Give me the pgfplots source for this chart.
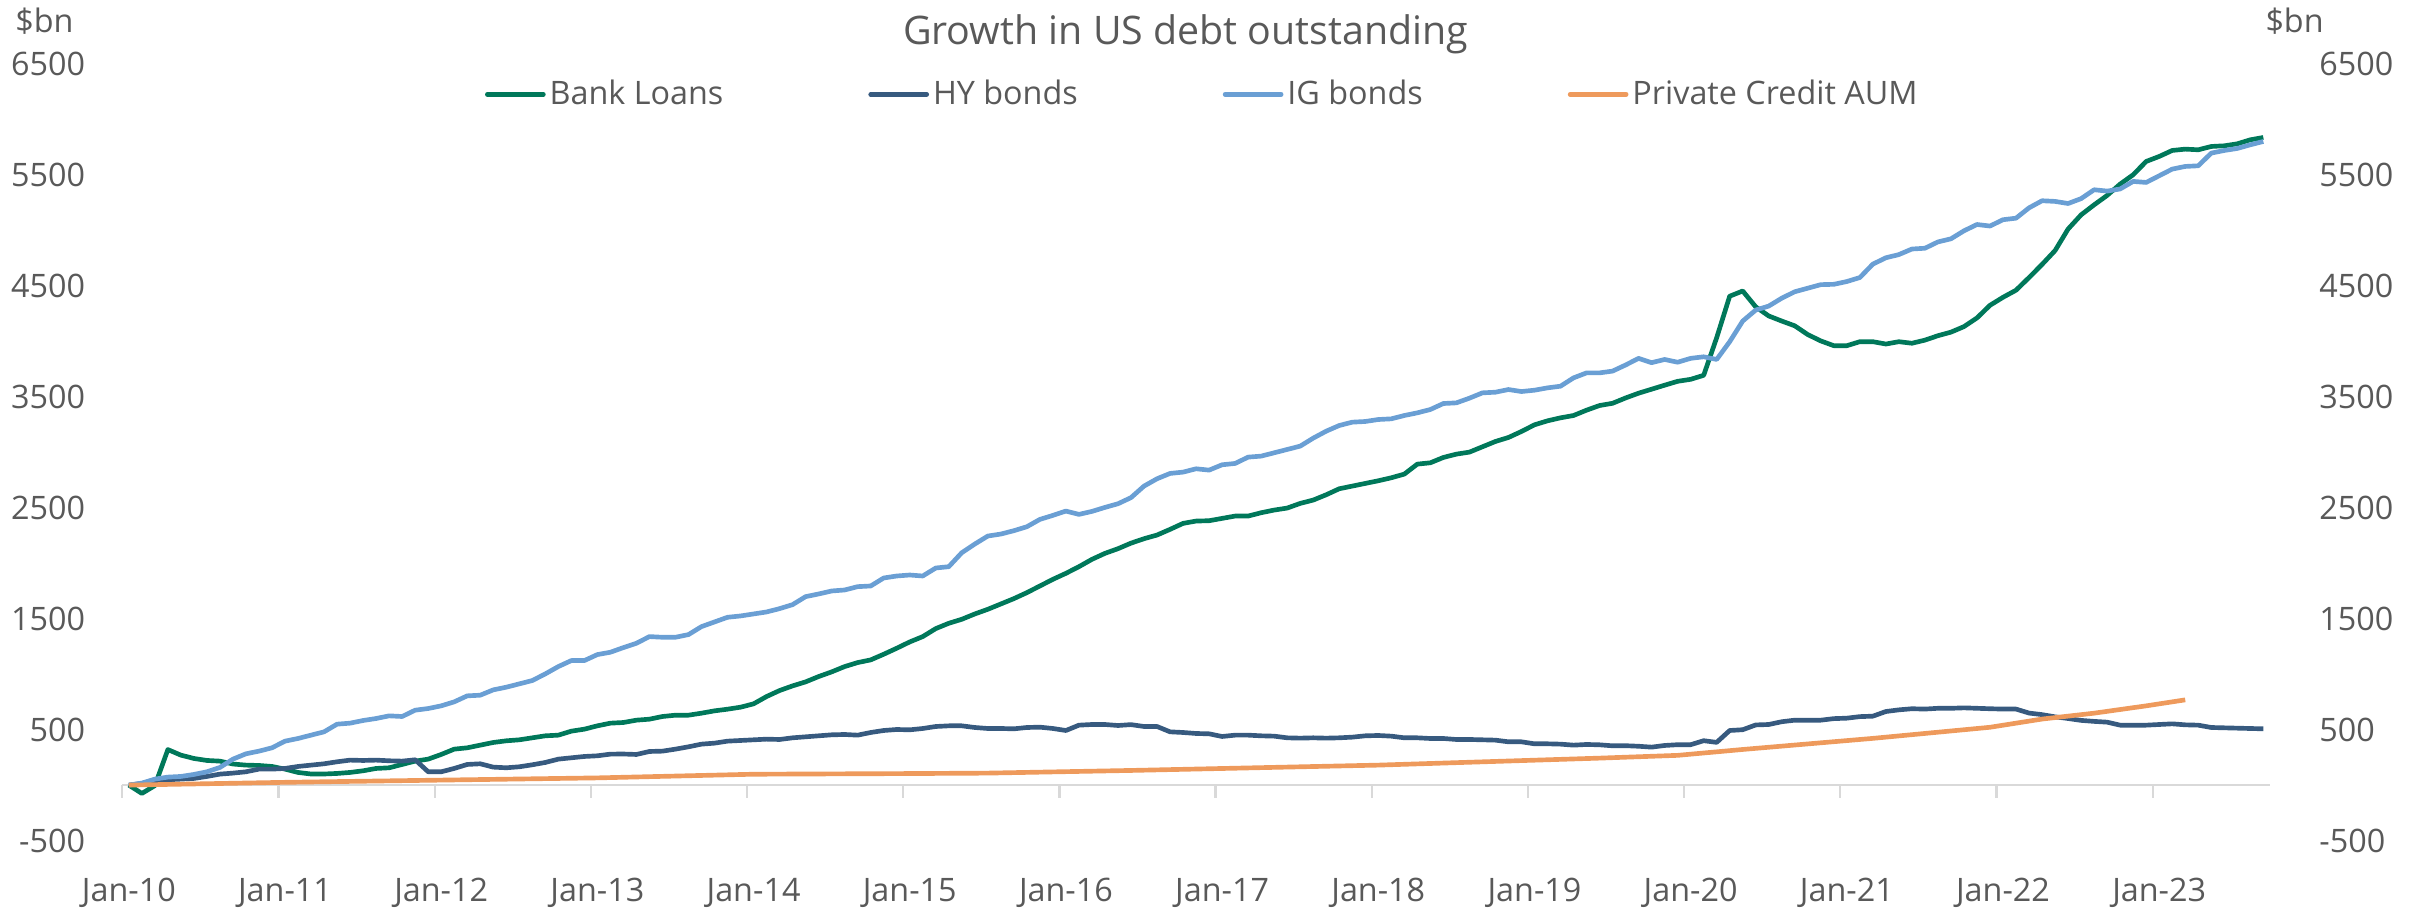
\documentclass[border=0pt]{standalone}
\usepackage{pgfplots}
\pgfplotsset{compat=1.18}
\usepackage{pgfplotstable}
\usepackage{fontspec}
\setmainfont{Open Sans}
\definecolor{bankgreen}{HTML}{00785A}
\definecolor{hyblue}{HTML}{375A7F}
\definecolor{igblue}{HTML}{6A9FD4}
\definecolor{pcorange}{HTML}{EE9A5C}
\definecolor{txtgray}{HTML}{595959}
\definecolor{axgray}{HTML}{D9D9D9}

% month index 0 = Jan-10
\pgfplotstableread{
m bl hy ig
0 0 0 0
1 -75 15 18
2 -5 39 54
3 320 48 72
4 270 54 78
5 240 60 96
6 222 78 120
7 216 99 159
8 190 108 234
9 180 120 282
10 177 144 306
11 168 144 336
12 144 150 396
13 114 168 420
14 100 180 450
15 100 192 480
16 105 210 549
17 114 225 558
18 129 222 582
19 150 225 600
20 156 219 624
21 186 216 618
22 216 228 675
23 234 120 690
24 276 120 714
25 324 150 750
26 336 186 804
27 360 192 810
28 384 162 858
29 399 156 882
30 408 165 912
31 426 183 942
32 444 204 1002
33 450 234 1068
34 486 246 1122
35 504 258 1122
36 534 264 1176
37 558 279 1197
38 564 280 1239
39 585 276 1278
40 594 303 1338
41 618 306 1332
42 630 324 1332
43 630 345 1356
44 648 369 1428
45 669 378 1470
46 684 396 1512
47 702 402 1524
48 732 408 1542
49 798 414 1560
50 852 411 1590
51 894 426 1626
52 930 435 1698
53 978 444 1722
54 1020 453 1749
55 1068 456 1758
56 1104 450 1788
57 1128 474 1794
58 1179 492 1866
59 1233 501 1884
60 1290 498 1893
61 1338 510 1884
62 1410 528 1956
63 1458 534 1968
64 1494 534 2094
65 1542 519 2172
66 1584 510 2244
67 1632 510 2262
68 1680 507 2292
69 1734 519 2328
70 1794 522 2394
71 1854 510 2430
72 1908 492 2469
73 1968 540 2439
74 2034 546 2466
75 2088 546 2502
76 2130 537 2535
77 2180 545 2590
78 2220 528 2694
79 2253 528 2760
80 2304 480 2808
81 2358 474 2820
82 2379 465 2850
83 2382 462 2838
84 2403 438 2886
85 2424 450 2898
86 2424 450 2955
87 2454 444 2964
88 2478 441 2994
89 2496 426 3024
90 2538 423 3054
91 2568 426 3126
92 2616 423 3189
93 2670 426 3240
94 2694 432 3270
95 2718 444 3276
96 2742 447 3294
97 2769 441 3300
98 2802 426 3330
99 2892 426 3354
100 2904 420 3384
101 2952 420 3438
102 2982 411 3444
103 3000 411 3486
104 3048 408 3534
105 3096 405 3540
106 3132 390 3564
107 3186 390 3546
108 3246 372 3558
109 3282 372 3579
110 3309 369 3594
111 3330 360 3669
112 3378 366 3714
113 3420 363 3714
114 3440 354 3730
115 3488 355 3785
116 3531 350 3845
117 3567 342 3806
118 3603 357 3835
119 3638 364 3810
120 3656 364 3845
121 3692 400 3859
122 4031 385 3835
123 4405 492 3995
124 4452 499 4181
125 4309 542 4280
126 4227 546 4316
127 4181 571 4387
128 4138 585 4445
129 4059 585 4477
130 4002 585 4509
131 3959 599 4512
132 3959 603 4537
133 3995 617 4573
134 3995 621 4694
135 3974 663 4751
136 3995 678 4780
137 3981 688 4830
138 4009 685 4837
139 4049 692 4894
140 4081 692 4922
141 4131 696 4994
142 4209 692 5051
143 4323 688 5037
144 4395 685 5094
145 4459 685 5108
146 4573 649 5201
147 4691 635 5265
148 4816 615 5259
149 5010 600 5240
150 5138 583 5284
151 5228 574 5364
152 5313 567 5352
153 5415 540 5371
154 5499 540 5439
155 5619 540 5430
156 5664 546 5490
157 5718 552 5550
158 5730 543 5574
159 5724 540 5580
160 5754 519 5694
161 5760 516 5718
162 5778 513 5736
163 5814 510 5769
164 5835 507 5799
}\debt

\pgfplotstableread{
m pc
0 0
12 25
24 45
36 65
48 98
60 104
66 108
77 132
96 180
113 243
119 268
124 321
134 421
143 521
147 595
151 648
155 714
158 768
}\pcaum

\newcommand{\smallfont}{\fontsize{9.7}{12}\selectfont}

\begin{document}
\begin{tikzpicture}
\pgfplotsset{
  base/.style={at={(0,0)}, anchor=south west, width=644.3pt, height=233.1pt,
    scale only axis, xmin=-0.5, xmax=164.5, ymin=-500, ymax=6500, clip=false}
}
% zero line with category ticks, right-hand labels
\begin{axis}[base,
  axis x line=middle, axis y line=right,
  x axis line style={draw=axgray, line width=0.7pt, -},
  y axis line style={draw=none, -},
  xtick={-0.5,11.5,...,155.5}, xticklabel=\empty,
  tick align=outside, major tick length=3.8pt,
  x tick style={draw=axgray, line width=0.7pt},
  y tick style={draw=none},
  ytick={-500,500,...,6500},
  yticklabels={-500,500,1500,2500,3500,4500,5500,6500},
  yticklabel style={anchor=west, inner sep=0pt, xshift=10.9pt, font=\smallfont, text=txtgray},
]
\end{axis}
% main axis with data
\begin{axis}[base,
  axis line style={draw=none},
  major tick length=0pt, tick style={draw=none},
  xtick={0,12,...,156},
  xticklabels={Jan-10,Jan-11,Jan-12,Jan-13,Jan-14,Jan-15,Jan-16,Jan-17,Jan-18,Jan-19,Jan-20,Jan-21,Jan-22,Jan-23},
  xticklabel style={anchor=base, inner sep=0pt, yshift=-18.3pt, font=\smallfont, text=txtgray},
  ytick={-500,500,...,6500},
  yticklabels={-500,500,1500,2500,3500,4500,5500,6500},
  yticklabel style={anchor=east, inner sep=0pt, xshift=-11pt, font=\smallfont, text=txtgray},
  legend style={at={(0.1689,0.9605)}, anchor=west, draw=none, fill=none,
    inner sep=0pt, outer sep=0pt, font=\smallfont, text=txtgray,
    nodes={inner sep=0pt},
    /tikz/every even column/.append style={column sep=43.5pt},
    /tikz/every odd column/.append style={column sep=1.2pt}},
  legend columns=4,
  legend image code/.code={\draw[#1, line width=1.4pt, line cap=round] (0pt,0pt) -- (16.8pt,0pt);},
  every axis plot/.append style={line width=1.4pt, line join=round, mark=none},
]
\addplot[color=bankgreen] table[x=m, y=bl] {\debt};
\addlegendentry{Bank Loans}
\addplot[color=hyblue] table[x=m, y=hy] {\debt};
\addlegendentry{HY bonds}
\addplot[color=igblue] table[x=m, y=ig] {\debt};
\addlegendentry{IG bonds}
\addplot[color=pcorange] table[x=m, y=pc] {\pcaum};
\addlegendentry{Private Credit AUM}
\end{axis}
\node[anchor=base, font=\fontsize{11.8}{14}\selectfont, text=txtgray] at (319.0pt,238.7pt) {Growth in US debt outstanding};
\node[anchor=base west, inner sep=0pt, font=\smallfont, text=txtgray] at (-32.3pt,242.3pt) {\$bn};
\node[anchor=base west, inner sep=0pt, font=\smallfont, text=txtgray] at (642.8pt,242.3pt) {\$bn};
\pgfresetboundingbox
\useasboundingbox (-36.7pt,-20.8pt) rectangle (686.36pt,252.2pt);
\end{tikzpicture}
\end{document}
